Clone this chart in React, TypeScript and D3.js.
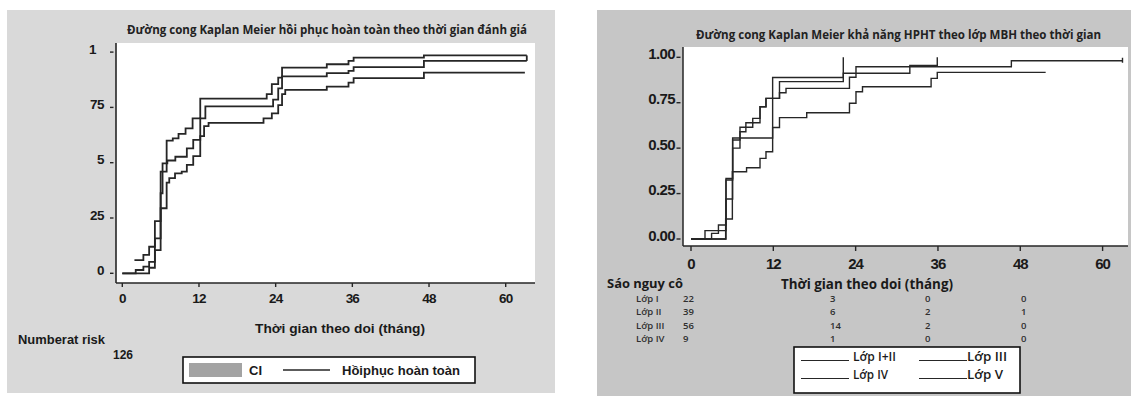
import React from 'react';
import * as d3 from 'd3';

// ---- left chart: overall complete recovery with CI ----
const leftTicksX = [0, 12, 24, 36, 48, 60];
const leftTicksY = [0, 0.25, 0.5, 0.75, 1];
const leftTickLabelsY = ['0', '25', '5', '75', '1'];

const kmEstimate: [number, number][] = [
  [0, 0], [2.1, 0.015], [3.3, 0.03], [4.2, 0.052], [5.1, 0.158], [6.0, 0.362], [6.3, 0.497],
  [7.05, 0.51], [8.3, 0.527], [10.1, 0.565], [11.1, 0.603], [12.2, 0.7], [13.0, 0.755],
  [23.6, 0.785], [24.4, 0.836], [25.0, 0.89], [32.0, 0.905], [35.4, 0.915], [36.2, 0.932],
  [47.2, 0.96],
];
const kmUpper: [number, number][] = [
  [1.9, 0.06], [3.3, 0.083], [4.2, 0.12], [5.1, 0.236], [6.0, 0.46], [6.94, 0.6], [7.9, 0.61],
  [8.8, 0.63], [9.9, 0.655], [11.0, 0.7], [12.2, 0.79], [22.6, 0.81], [23.4, 0.855],
  [24.4, 0.885], [25.0, 0.93], [32.0, 0.945], [35.4, 0.96], [36.2, 0.975], [47.2, 0.985],
];
const kmLower: [number, number][] = [
  [0, 0], [4.2, 0.025], [5.1, 0.105], [6.0, 0.294], [6.94, 0.41], [7.35, 0.43], [8.25, 0.452],
  [9.3, 0.46], [10.1, 0.49], [11.1, 0.53], [12.2, 0.62], [12.8, 0.665], [13.5, 0.68],
  [22.1, 0.7], [23.4, 0.723], [24.4, 0.76], [25.0, 0.81], [25.5, 0.829], [32.0, 0.844],
  [35.4, 0.862], [36.2, 0.882], [47.2, 0.907],
];
const kmEndEstimate = 63.3;
const kmEndUpper = 63.3;
const kmEndLower = 63.0;
const atRiskStart = 126;

// ---- right chart: by class ----
const rightTicksX = [0, 12, 24, 36, 48, 60];
const rightTicksY = [0, 0.25, 0.5, 0.75, 1];
const rightTickLabelsY = ['0.00', '0.25', '0.50', '0.75', '1.00'];

const classA: [number, number][] = [
  [0, 0], [5.05, 0.11], [6.03, 0.37], [8.1, 0.392], [10.06, 0.444], [10.93, 0.48], [11.9, 0.614],
  [12.9, 0.668], [16.87, 0.695], [23.1, 0.747], [24.05, 0.81], [25.0, 0.838], [35.0, 0.884],
  [35.9, 0.917],
];
const classB: [number, number][] = [
  [0, 0], [3.0, 0.031], [4.0, 0.046], [5.1, 0.22], [6.07, 0.5], [7.14, 0.59], [8.0, 0.615],
  [9.0, 0.64], [10.06, 0.728], [10.93, 0.774], [12.9, 0.805], [13.85, 0.829], [23.1, 0.89],
  [24.05, 0.948], [46.7, 0.981],
];
const classC: [number, number][] = [
  [0, 0], [2.04, 0.046], [4.0, 0.077], [5.1, 0.325], [6.07, 0.545], [7.14, 0.615], [8.0, 0.64],
  [9.0, 0.664], [10.06, 0.728], [10.93, 0.774], [12.9, 0.866], [22.2, 0.912], [31.9, 0.955],
  [35.9, 1.0],
];
const classD: [number, number][] = [
  [0, 0], [5.1, 0.333], [6.07, 0.556], [11.9, 0.889], [22.2, 1.0],
];
const classEnds = [51.7, 62.9, 35.9, 22.2];
const classCensored = [false, true, false, false];

const riskClasses = ['Lớp I', 'Lớp II', 'Lớp III', 'Lớp IV'];
const riskCounts = [
  [22, 3, 0, 0],
  [39, 6, 2, 1],
  [56, 14, 2, 0],
  [9, 1, 0, 0],
];
const legendLabels = ['Lớp I+II', 'Lớp III', 'Lớp IV', 'Lớp V'];

const ARIAL = "'Liberation Sans', Arial, sans-serif";
const MYRIAD = "'Open Sans', 'Noto Sans', sans-serif";
const INK = '#262626';

function stepPath(pts: [number, number][], end: number, x: d3.ScaleLinear<number, number>, y: d3.ScaleLinear<number, number>) {
  const last = pts[pts.length - 1];
  const data = end > last[0] ? [...pts, [end, last[1]] as [number, number]] : pts;
  return d3.line<[number, number]>()
    .x(d => x(d[0]))
    .y(d => y(d[1]))
    .curve(d3.curveStepAfter)(data) || '';
}

function LeftChart() {
  const x = d3.scaleLinear().domain([0, 60]).range([122.3, 505.7]);
  const y = d3.scaleLinear().domain([0, 1]).range([273.3, 52.1]);
  const axisY = 283;
  const axisX = 116;
  const lastEst = kmEstimate[kmEstimate.length - 1][1];
  const lastUp = kmUpper[kmUpper.length - 1][1];

  return (
    <g>
      <rect x={7} y={10} width={548} height={383} fill="#d9d9d9" />
      <rect x={axisX} y={43} width={535 - axisX} height={axisY - 43} fill="#fff" />
      <text x={327} y={29} textAnchor="middle" dominantBaseline="central" fontFamily={MYRIAD}
        fontWeight={700} fontSize={12} textLength={400} lengthAdjust="spacingAndGlyphs" fill="#222">
        Đường cong Kaplan Meier hồi phục hoàn toàn theo thời gian đánh giá
      </text>

      {/* axes */}
      <line x1={axisX} x2={axisX} y1={43} y2={axisY} stroke={INK} strokeWidth={1.6} />
      <line x1={axisX} x2={535} y1={axisY} y2={axisY} stroke={INK} strokeWidth={1.6} />
      {leftTicksY.map((v, i) => (
        <g key={v}>
          <line x1={110} x2={113.5} y1={y(v)} y2={y(v)} stroke={INK} strokeWidth={1.4} />
          <text x={leftTickLabelsY[i] === '1' ? 96 : 104} y={y(v) - 3} textAnchor="end"
            dominantBaseline="central" fontFamily={ARIAL} fontWeight={700} fontSize={13.5}
            letterSpacing={-0.5} fill="#1a1a1a">{leftTickLabelsY[i]}</text>
        </g>
      ))}
      {leftTicksX.map(t => (
        <g key={t}>
          <line x1={x(t)} x2={x(t)} y1={axisY} y2={axisY + 4} stroke={INK} strokeWidth={1.4} />
          <text x={x(t)} y={298} textAnchor="middle" dominantBaseline="central" fontFamily={ARIAL}
            fontWeight={700} fontSize={13.5} letterSpacing={-0.8} fill="#1a1a1a">{t}</text>
        </g>
      ))}

      {/* curves */}
      <g fill="none" stroke={INK} strokeWidth={1.8}>
        <path d={stepPath(kmUpper, kmEndUpper, x, y)} />
        <path d={stepPath(kmEstimate, kmEndEstimate, x, y)} />
        <path d={stepPath(kmLower, kmEndLower, x, y)} />
        <line x1={x(kmEndUpper)} x2={x(kmEndUpper)} y1={y(lastUp)} y2={y(lastEst)} />
      </g>

      <text x={340} y={328} textAnchor="middle" dominantBaseline="central" fontFamily={ARIAL}
        fontWeight={700} fontSize={13} textLength={170} lengthAdjust="spacingAndGlyphs" fill="#1a1a1a">
        Thời gian theo doi (tháng)
      </text>
      <text x={18} y={340} dominantBaseline="central" fontFamily={ARIAL} fontWeight={700} fontSize={12}
        textLength={87} lengthAdjust="spacingAndGlyphs" fill="#1a1a1a">Numberat risk</text>
      <text x={113} y={355} dominantBaseline="central" fontFamily={ARIAL} fontWeight={700} fontSize={12}
        fill="#1a1a1a">{atRiskStart}</text>

      {/* legend */}
      <rect x={183} y={357} width={292} height={26} fill="#fff" stroke="#111" strokeWidth={1.6} />
      <rect x={189} y={363} width={53} height={14} fill="#a3a3a3" />
      <text x={249} y={370} dominantBaseline="central" fontFamily={ARIAL} fontWeight={700} fontSize={13}
        fill="#1a1a1a">CI</text>
      <line x1={283} x2={330} y1={370} y2={370} stroke={INK} strokeWidth={1.3} />
      <text x={342} y={370} dominantBaseline="central" fontFamily={ARIAL} fontWeight={700} fontSize={13}
        textLength={118} lengthAdjust="spacingAndGlyphs" fill="#1a1a1a">Hồiphục hoàn toàn</text>
    </g>
  );
}

function RightChart() {
  const x = d3.scaleLinear().domain([0, 60]).range([691, 1102.6]);
  const y = d3.scaleLinear().domain([0, 1]).range([239, 57.3]);
  const axisY = 246;
  const axisX = 683;
  const curves = [classA, classB, classC, classD];
  const riskCols = [683, 830, 925, 1021];
  const riskRows = [298.3, 311.7, 325, 338.3];

  return (
    <g>
      <rect x={597} y={10} width={534} height={386} fill="#c6c6c6" />
      <rect x={axisX} y={47} width={1128 - axisX} height={axisY - 47} fill="#fff" />
      <text x={898.5} y={34} textAnchor="middle" dominantBaseline="central" fontFamily={MYRIAD}
        fontWeight={700} fontSize={12} textLength={405} lengthAdjust="spacingAndGlyphs" fill="#222">
        Đường cong Kaplan Meier khả năng HPHT theo lớp MBH theo thời gian
      </text>

      <line x1={axisX} x2={axisX} y1={47} y2={axisY} stroke={INK} strokeWidth={1.5} />
      <line x1={axisX} x2={1128} y1={axisY} y2={axisY} stroke={INK} strokeWidth={1.5} />
      {rightTicksY.map((v, i) => (
        <g key={v}>
          <line x1={676.5} x2={680.5} y1={y(v)} y2={y(v)} stroke={INK} strokeWidth={1.4} />
          <text x={675} y={y(v) - 4} textAnchor="end" dominantBaseline="central" fontFamily={ARIAL}
            fontWeight={700} fontSize={15} letterSpacing={-0.6} fill="#1a1a1a">{rightTickLabelsY[i]}</text>
        </g>
      ))}
      {rightTicksX.map(t => (
        <g key={t}>
          <line x1={x(t)} x2={x(t)} y1={axisY} y2={axisY + 5} stroke={INK} strokeWidth={1.4} />
          <text x={x(t)} y={263} textAnchor="middle" dominantBaseline="central" fontFamily={ARIAL}
            fontWeight={700} fontSize={15} letterSpacing={-1} fill="#1a1a1a">{t}</text>
        </g>
      ))}

      <g fill="none" stroke={INK} strokeWidth={1.4}>
        {curves.map((c, i) => (
          <path key={i} d={stepPath(c, classEnds[i], x, y)} />
        ))}
        {curves.map((c, i) => classCensored[i] ? (
          <line key={'c' + i} x1={x(classEnds[i])} x2={x(classEnds[i])}
            y1={y(c[c.length - 1][1]) - 3} y2={y(c[c.length - 1][1]) + 2} />
        ) : null)}
      </g>

      <text x={607} y={283} dominantBaseline="central" fontFamily={MYRIAD} fontWeight={700} fontSize={12.5}
        textLength={76} lengthAdjust="spacingAndGlyphs" fill="#1a1a1a">Sáo nguy cô</text>
      <text x={867} y={283} textAnchor="middle" dominantBaseline="central" fontFamily={MYRIAD}
        fontWeight={700} fontSize={14} textLength={172} lengthAdjust="spacingAndGlyphs" fill="#1a1a1a">
        Thời gian theo doi (tháng)
      </text>
      {riskClasses.map((name, r) => (
        <g key={name} fontFamily={MYRIAD} fontWeight={600} fontSize={9.5} fill="#2e2e2e">
          <text x={636} y={riskRows[r]} dominantBaseline="central">{name}</text>
          {riskCounts[r].map((n, c) => (
            <text key={c} x={riskCols[c]} y={riskRows[r]} dominantBaseline="central">{n}</text>
          ))}
        </g>
      ))}

      {/* legend */}
      <rect x={794} y={347} width={226} height={46} fill="#fff" stroke="#111" strokeWidth={1.6} />
      {legendLabels.map((label, i) => {
        const col = i % 2;
        const row = Math.floor(i / 2);
        const lx = col === 0 ? 801 : 919;
        const tx = col === 0 ? 853 : 967;
        const by = row === 0 ? 361 : 379;
        return (
          <g key={label}>
            <line x1={lx} x2={lx + 48} y1={by - 0.5} y2={by - 0.5} stroke={INK} strokeWidth={1.2} />
            <text x={tx} y={by} fontFamily={MYRIAD} fontWeight={600} fontSize={12.5}
              textLength={[43, 40, 35, 36][i]} lengthAdjust="spacingAndGlyphs" fill="#1a1a1a">{label}</text>
          </g>
        );
      })}
    </g>
  );
}

export default function App() {
  return (
    <div style={{ position: 'fixed', left: 0, top: 0, width: 1131, height: 396, background: '#fff' }}>
      <svg width={1131} height={396} style={{ display: 'block' }}>
        <rect width={1131} height={396} fill="#fff" />
        <LeftChart />
        <RightChart />
      </svg>
    </div>
  );
}
